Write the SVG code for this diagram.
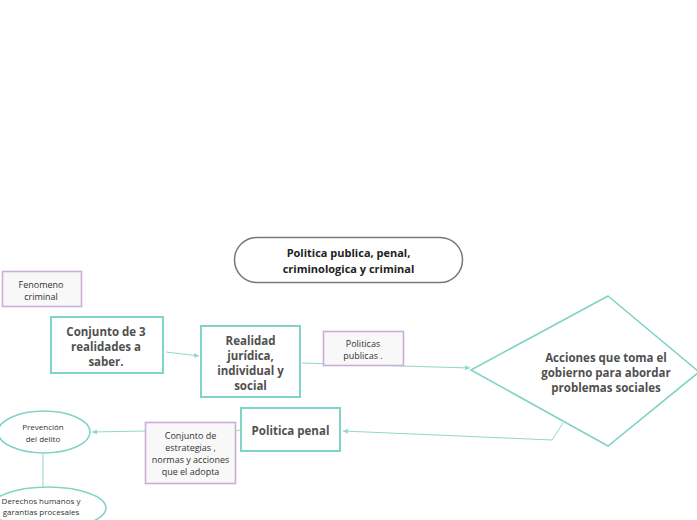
<svg xmlns="http://www.w3.org/2000/svg" width="697" height="520" viewBox="0 0 697 520">
<defs>
<style>
.t{font-family:"Open Sans","Liberation Sans",sans-serif;text-anchor:middle}
.b{font-weight:bold;fill:#505050;font-size:11.5px}
.s{fill:#333;font-size:9px}
.teal{fill:#fff;stroke:#80d4c6;stroke-width:2}
.lav{fill:#f8f8f8;stroke:#c9aed8;stroke-width:1.6}
.ell{fill:#fff;stroke:#80d4c6;stroke-width:1.6}
.c{fill:none;stroke:#8fd9cc;stroke-width:1}
</style>
<marker id="a" markerWidth="6" markerHeight="6" refX="5" refY="3" orient="auto" markerUnits="userSpaceOnUse">
<path d="M0,0.5 L5,3 L0,5.5 Z" fill="#8fd9cc"/>
</marker>
</defs>
<rect width="697" height="520" fill="#fff"/>
<g id="connectors">
<path class="c" d="M166,352 L199,356" marker-end="url(#a)"/>
<path class="c" d="M302,363 L470,368" marker-end="url(#a)"/>
<path class="c" d="M563,423 L552,440 L343,431" marker-end="url(#a)"/>
<path class="c" d="M240,430 L236,431"/>
<path class="c" d="M145,431 L92,432" marker-end="url(#a)"/>
<path class="c" d="M43,454 L43,487"/>
</g>
<g id="title">
<rect x="234.5" y="237.5" width="228" height="45" rx="22.5" fill="#fff" stroke="#777" stroke-width="1.5"/>
<text class="t" x="348.5" y="257" font-weight="bold" font-size="11px" fill="#222">Politica publica, penal,</text>
<text class="t" x="348.5" y="273" font-weight="bold" font-size="11px" fill="#222">criminologica y criminal</text>
</g>
<g id="fenomeno">
<rect class="lav" x="2.5" y="271.5" width="79" height="35"/>
<text class="t s" x="41" y="288">Fenomeno</text>
<text class="t s" x="41" y="300">criminal</text>
</g>
<g id="conjunto3">
<rect class="teal" x="51" y="317" width="112" height="56"/>
<text class="t b" x="106" y="336">Conjunto de 3</text>
<text class="t b" x="106" y="351">realidades a</text>
<text class="t b" x="106" y="366">saber.</text>
</g>
<g id="realidad">
<rect class="teal" x="201" y="326" width="99" height="71"/>
<text class="t b" x="250.5" y="345">Realidad</text>
<text class="t b" x="250.5" y="360">jurídica,</text>
<text class="t b" x="250.5" y="375">individual y</text>
<text class="t b" x="250.5" y="390">social</text>
</g>
<g id="politicas">
<rect class="lav" x="323.5" y="331.5" width="80" height="34"/>
<text class="t s" x="363" y="347">Politicas</text>
<text class="t s" x="363" y="359">publicas .</text>
</g>
<g id="acciones">
<polygon points="608,296 699,372 608,446 471,370" fill="#fff" stroke="#80d4c6" stroke-width="1.6"/>
<text class="t b" x="606" y="362" font-size="10.6px">Acciones que toma el</text>
<text class="t b" x="606" y="377" font-size="10.6px">gobierno para abordar</text>
<text class="t b" x="606" y="392" font-size="10.6px">problemas sociales</text>
</g>
<g id="penal">
<rect class="teal" x="241" y="408" width="99" height="43"/>
<text class="t b" x="290.5" y="435" font-size="12px">Politica penal</text>
</g>
<g id="estrategias">
<rect class="lav" x="145.5" y="422.5" width="90" height="61"/>
<text class="t s" x="190.5" y="439">Conjunto de</text>
<text class="t s" x="190.5" y="451">estrategias ,</text>
<text class="t s" x="190.5" y="463">normas y acciones</text>
<text class="t s" x="190.5" y="475">que el adopta</text>
</g>
<g id="prevencion">
<ellipse class="ell" cx="44" cy="432" rx="46" ry="21"/>
<text class="t" x="43" y="430" font-size="8px" fill="#333">Prevención</text>
<text class="t" x="43" y="442" font-size="8px" fill="#333">del delito</text>
</g>
<g id="derechos">
<ellipse class="ell" cx="48" cy="508" rx="58" ry="21"/>
<text class="t" x="41" y="504" font-size="8px" fill="#333">Derechos humanos y</text>
<text class="t" x="41" y="515" font-size="8px" fill="#333">garantias procesales</text>
</g>
</svg>
